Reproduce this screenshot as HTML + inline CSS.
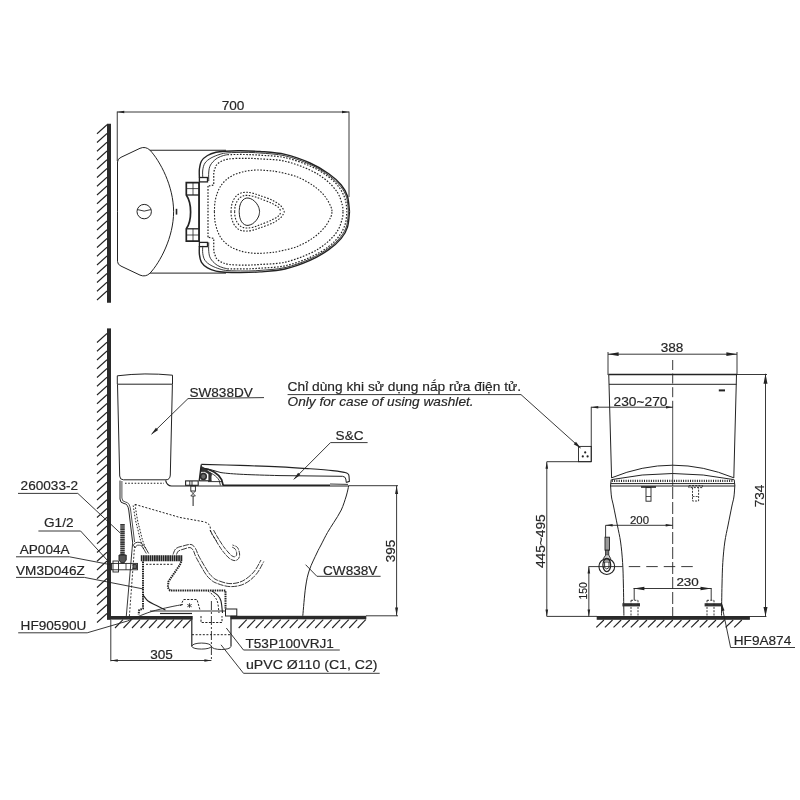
<!DOCTYPE html>
<html><head><meta charset="utf-8"><title>Drawing</title>
<style>html,body{margin:0;padding:0;background:#fff}svg{display:block;filter:grayscale(1)}
text{font-family:"Liberation Sans",Arial,sans-serif;fill:#262629;stroke:#262629;stroke-width:0.18px}</style></head>
<body><svg width="800" height="800" viewBox="0 0 800 800">
<rect width="800" height="800" fill="#fff"/>
<rect x="107.00" y="123.75" width="4.00" height="179.00" fill="#2a2a2e" stroke="none" stroke-width="0"/>
<path d="M97.00,133.75 L107.00,124.75" fill="none" stroke="#232326" stroke-width="1.05" />
<path d="M97.00,142.50 L107.00,133.50" fill="none" stroke="#232326" stroke-width="1.05" />
<path d="M97.00,151.25 L107.00,142.25" fill="none" stroke="#232326" stroke-width="1.05" />
<path d="M97.00,160.00 L107.00,151.00" fill="none" stroke="#232326" stroke-width="1.05" />
<path d="M97.00,168.75 L107.00,159.75" fill="none" stroke="#232326" stroke-width="1.05" />
<path d="M97.00,177.50 L107.00,168.50" fill="none" stroke="#232326" stroke-width="1.05" />
<path d="M97.00,186.25 L107.00,177.25" fill="none" stroke="#232326" stroke-width="1.05" />
<path d="M97.00,195.00 L107.00,186.00" fill="none" stroke="#232326" stroke-width="1.05" />
<path d="M97.00,203.75 L107.00,194.75" fill="none" stroke="#232326" stroke-width="1.05" />
<path d="M97.00,212.50 L107.00,203.50" fill="none" stroke="#232326" stroke-width="1.05" />
<path d="M97.00,221.25 L107.00,212.25" fill="none" stroke="#232326" stroke-width="1.05" />
<path d="M97.00,230.00 L107.00,221.00" fill="none" stroke="#232326" stroke-width="1.05" />
<path d="M97.00,238.75 L107.00,229.75" fill="none" stroke="#232326" stroke-width="1.05" />
<path d="M97.00,247.50 L107.00,238.50" fill="none" stroke="#232326" stroke-width="1.05" />
<path d="M97.00,256.25 L107.00,247.25" fill="none" stroke="#232326" stroke-width="1.05" />
<path d="M97.00,265.00 L107.00,256.00" fill="none" stroke="#232326" stroke-width="1.05" />
<path d="M97.00,273.75 L107.00,264.75" fill="none" stroke="#232326" stroke-width="1.05" />
<path d="M97.00,282.50 L107.00,273.50" fill="none" stroke="#232326" stroke-width="1.05" />
<path d="M97.00,291.25 L107.00,282.25" fill="none" stroke="#232326" stroke-width="1.05" />
<path d="M97.00,300.00 L107.00,291.00" fill="none" stroke="#232326" stroke-width="1.05" />
<path d="M117.25,112.00 L349.00,112.00" fill="none" stroke="#232326" stroke-width="0.9" />
<path d="M117.25,111.50 L117.25,161.00" fill="none" stroke="#232326" stroke-width="0.9" />
<path d="M349.00,111.50 L349.00,197.00" fill="none" stroke="#232326" stroke-width="0.9" />
<polygon points="117.25,112.00 124.25,110.70 124.25,113.30" fill="#232326"/>
<polygon points="349.00,112.00 342.00,113.30 342.00,110.70" fill="#232326"/>
<text x="233.00" y="110.00" font-size="13.6" text-anchor="middle" >700</text>
<path d="M117.5,211.7 L117.5,162 Q117.5,158.8 121,157.3 L140,148.3 Q145.5,146 150,150.2 C160,161 173.6,186 173.6,211.7" fill="none" stroke="#232326" stroke-width="1.0" />
<path d="M117.5,211.7 L117.5,261.4 Q117.5,264.6 121,266.1 L140,275.1 Q145.5,277.4 150,273.2 C160,262.4 173.6,237.4 173.6,211.7" fill="none" stroke="#232326" stroke-width="1.0" />
<path d="M150.00,150.25 L226.00,150.25" fill="none" stroke="#232326" stroke-width="1.0" />
<path d="M150.00,273.10 L226.00,273.10" fill="none" stroke="#232326" stroke-width="1.0" />
<circle cx="144.2" cy="211.6" r="7.2" fill="none" stroke="#232326" stroke-width="1"/>
<path d="M137.6,209.6 Q144.2,212.6 150.8,209.6" fill="none" stroke="#232326" stroke-width="0.9" />
<path d="M176.50,208.80 L176.50,214.60" fill="none" stroke="#232326" stroke-width="1.6" />
<path d="M186.3,182.6 H199 V241.2 H186.3 V228.8 C189,225 190.6,220 190.6,211.9 C190.6,204 189,199 186.3,195 Z" fill="none" stroke="#232326" stroke-width="1.7" />
<path d="M186.30,195.00 L199.00,195.00" fill="none" stroke="#232326" stroke-width="1.3" />
<path d="M186.30,228.80 L199.00,228.80" fill="none" stroke="#232326" stroke-width="1.3" />
<path d="M193.00,182.60 L193.00,195.00" fill="none" stroke="#232326" stroke-width="0.8" />
<path d="M186.30,188.60 L199.00,188.60" fill="none" stroke="#232326" stroke-width="0.8" />
<path d="M193.00,228.80 L193.00,241.20" fill="none" stroke="#232326" stroke-width="0.8" />
<path d="M186.30,235.00 L199.00,235.00" fill="none" stroke="#232326" stroke-width="0.8" />
<rect x="199.40" y="177.50" width="8.10" height="4.40" fill="none" stroke="#232326" stroke-width="1.3"/>
<rect x="199.40" y="242.40" width="8.10" height="4.20" fill="none" stroke="#232326" stroke-width="1.3"/>
<path d="M199.30,182.00 L199.30,242.00" fill="none" stroke="#232326" stroke-width="1.0" />
<path d="M199.40,177.50 C199.40,176.08 199.05,171.75 199.40,169.00 C199.75,166.25 200.15,163.25 201.50,161.00 C202.85,158.75 205.08,156.95 207.50,155.50 C209.92,154.05 213.08,153.02 216.00,152.30 C218.92,151.58 221.00,151.45 225.00,151.20 C229.00,150.95 234.17,150.75 240.00,150.80 C245.83,150.85 252.50,150.90 260.00,151.50 C267.50,152.10 276.67,152.48 285.00,154.40 C293.33,156.32 302.71,159.78 310.00,163.00 C317.29,166.22 323.54,170.08 328.75,173.75 C333.96,177.42 338.12,181.25 341.25,185.00 C344.38,188.75 346.12,191.80 347.50,196.25 C348.88,200.70 349.17,209.12 349.50,211.70" fill="none" stroke="#232326" stroke-width="1.4" />
<path d="M199.40,245.90 C199.40,247.32 199.05,251.65 199.40,254.40 C199.75,257.15 200.15,260.15 201.50,262.40 C202.85,264.65 205.08,266.45 207.50,267.90 C209.92,269.35 213.08,270.38 216.00,271.10 C218.92,271.82 221.00,271.95 225.00,272.20 C229.00,272.45 234.17,272.65 240.00,272.60 C245.83,272.55 252.50,272.50 260.00,271.90 C267.50,271.30 276.67,270.92 285.00,269.00 C293.33,267.08 302.71,263.62 310.00,260.40 C317.29,257.17 323.54,253.32 328.75,249.65 C333.96,245.98 338.12,242.15 341.25,238.40 C344.38,234.65 346.12,231.60 347.50,227.15 C348.88,222.70 349.17,214.27 349.50,211.70" fill="none" stroke="#232326" stroke-width="1.4" />
<path d="M202.75,177.50 C202.75,176.25 202.38,172.42 202.75,170.00 C203.12,167.58 203.62,165.00 205.00,163.00 C206.38,161.00 208.50,159.45 211.00,158.00 C213.50,156.55 217.17,155.17 220.00,154.30 C222.83,153.43 223.83,153.12 228.00,152.80 C232.17,152.48 239.67,152.37 245.00,152.40 C250.33,152.43 253.33,152.43 260.00,153.00 C266.67,153.57 276.67,153.90 285.00,155.80 C293.33,157.70 302.75,161.17 310.00,164.40 C317.25,167.63 323.40,171.53 328.50,175.20 C333.60,178.87 337.58,182.68 340.60,186.40 C343.62,190.12 345.30,193.28 346.60,197.50 C347.90,201.72 348.10,209.33 348.40,211.70" fill="none" stroke="#232326" stroke-width="0.9" />
<path d="M202.75,245.90 C202.75,247.15 202.38,250.98 202.75,253.40 C203.12,255.82 203.62,258.40 205.00,260.40 C206.38,262.40 208.50,263.95 211.00,265.40 C213.50,266.85 217.17,268.23 220.00,269.10 C222.83,269.97 223.83,270.28 228.00,270.60 C232.17,270.92 239.67,271.03 245.00,271.00 C250.33,270.97 253.33,270.97 260.00,270.40 C266.67,269.83 276.67,269.50 285.00,267.60 C293.33,265.70 302.75,262.23 310.00,259.00 C317.25,255.77 323.40,251.87 328.50,248.20 C333.60,244.53 337.58,240.72 340.60,237.00 C343.62,233.28 345.30,230.12 346.60,225.90 C347.90,221.68 348.10,214.07 348.40,211.70" fill="none" stroke="#232326" stroke-width="0.9" />
<path d="M208.75,181.00 C208.75,179.50 208.46,174.67 208.75,172.00 C209.04,169.33 209.29,167.17 210.50,165.00 C211.71,162.83 214.08,160.50 216.00,159.00 C217.92,157.50 220.08,156.73 222.00,156.00 C223.92,155.27 226.58,154.83 227.50,154.60" fill="none" stroke="#232326" stroke-width="0.9" />
<path d="M208.75,242.40 C208.75,243.90 208.46,248.73 208.75,251.40 C209.04,254.07 209.29,256.23 210.50,258.40 C211.71,260.57 214.08,262.90 216.00,264.40 C217.92,265.90 220.08,266.67 222.00,267.40 C223.92,268.13 226.58,268.57 227.50,268.80" fill="none" stroke="#232326" stroke-width="0.9" />
<path d="M227.50,154.60 C230.42,154.58 239.58,154.40 245.00,154.50 C250.42,154.60 253.33,154.68 260.00,155.20 C266.67,155.72 276.67,155.80 285.00,157.60 C293.33,159.40 302.75,162.80 310.00,166.00 C317.25,169.20 323.57,173.13 328.50,176.80 C333.43,180.47 336.78,184.13 339.60,188.00 C342.42,191.87 344.20,196.05 345.40,200.00 C346.60,203.95 346.57,209.75 346.80,211.70" fill="none" stroke="#232326" stroke-width="1.2" stroke-dasharray="1.6 1.5" />
<path d="M227.50,268.80 C230.42,268.82 239.58,269.00 245.00,268.90 C250.42,268.80 253.33,268.72 260.00,268.20 C266.67,267.68 276.67,267.60 285.00,265.80 C293.33,264.00 302.75,260.60 310.00,257.40 C317.25,254.20 323.57,250.27 328.50,246.60 C333.43,242.93 336.78,239.27 339.60,235.40 C342.42,231.53 344.20,227.35 345.40,223.40 C346.60,219.45 346.57,213.65 346.80,211.70" fill="none" stroke="#232326" stroke-width="1.2" stroke-dasharray="1.6 1.5" />
<path d="M208.75,186 L213.75,185 L213.75,172 L216.00,165.50 C216.67,164.92 217.88,163.08 220.00,162.00 C222.12,160.92 224.58,159.62 228.75,159.00 C232.92,158.38 239.79,158.32 245.00,158.30 C250.21,158.28 253.33,158.42 260.00,158.90 C266.67,159.38 276.67,159.35 285.00,161.20 C293.33,163.05 303.17,166.87 310.00,170.00 C316.83,173.13 321.42,176.25 326.00,180.00 C330.58,183.75 334.78,188.33 337.50,192.50 C340.22,196.67 341.38,201.80 342.30,205.00 C343.22,208.20 342.88,210.58 343.00,211.70" fill="none" stroke="#232326" stroke-width="1.2" stroke-dasharray="1.6 1.5" />
<path d="M208.75,237.40 L213.75,238.40 L213.75,251.40 L216.00,257.90 C216.67,258.48 217.88,260.32 220.00,261.40 C222.12,262.48 224.58,263.78 228.75,264.40 C232.92,265.02 239.79,265.08 245.00,265.10 C250.21,265.12 253.33,264.98 260.00,264.50 C266.67,264.02 276.67,264.05 285.00,262.20 C293.33,260.35 303.17,256.53 310.00,253.40 C316.83,250.27 321.42,247.15 326.00,243.40 C330.58,239.65 334.78,235.07 337.50,230.90 C340.22,226.73 341.38,221.60 342.30,218.40 C343.22,215.20 342.88,212.82 343.00,211.70" fill="none" stroke="#232326" stroke-width="1.2" stroke-dasharray="1.6 1.5" />
<path d="M208.00,186.00 L208.00,237.40" fill="none" stroke="#232326" stroke-width="1.2" stroke-dasharray="1.6 1.5" />
<path d="M207.70,186.00 L207.70,237.40" fill="none" stroke="#232326" stroke-width="0" />
<path d="M214.40,211.70 C214.50,210.08 214.48,205.20 215.00,202.00 C215.52,198.80 216.50,195.25 217.50,192.50 C218.50,189.75 219.58,187.58 221.00,185.50 C222.42,183.42 224.17,181.62 226.00,180.00 C227.83,178.38 229.67,177.03 232.00,175.80 C234.33,174.57 237.33,173.43 240.00,172.60 C242.67,171.77 245.08,171.23 248.00,170.80 C250.92,170.37 254.17,170.03 257.50,170.00 C260.83,169.97 264.46,170.27 268.00,170.60 C271.54,170.93 273.83,170.93 278.75,172.00 C283.67,173.07 291.67,174.67 297.50,177.00 C303.33,179.33 309.17,182.75 313.75,186.00 C318.33,189.25 322.12,193.00 325.00,196.50 C327.88,200.00 329.83,204.47 331.00,207.00 C332.17,209.53 331.83,210.92 332.00,211.70" fill="none" stroke="#232326" stroke-width="1.1" stroke-dasharray="1.6 1.5" />
<path d="M214.40,211.70 C214.50,213.32 214.48,218.20 215.00,221.40 C215.52,224.60 216.50,228.15 217.50,230.90 C218.50,233.65 219.58,235.82 221.00,237.90 C222.42,239.98 224.17,241.78 226.00,243.40 C227.83,245.02 229.67,246.37 232.00,247.60 C234.33,248.83 237.33,249.97 240.00,250.80 C242.67,251.63 245.08,252.17 248.00,252.60 C250.92,253.03 254.17,253.37 257.50,253.40 C260.83,253.43 264.46,253.13 268.00,252.80 C271.54,252.47 273.83,252.47 278.75,251.40 C283.67,250.33 291.67,248.73 297.50,246.40 C303.33,244.07 309.17,240.65 313.75,237.40 C318.33,234.15 322.12,230.40 325.00,226.90 C327.88,223.40 329.83,218.93 331.00,216.40 C332.17,213.87 331.83,212.48 332.00,211.70" fill="none" stroke="#232326" stroke-width="1.1" stroke-dasharray="1.6 1.5" />
<path d="M231.00,211.70 C231.10,210.67 231.14,207.53 231.60,205.50 C232.06,203.47 232.85,201.20 233.75,199.50 C234.65,197.80 235.79,196.38 237.00,195.30 C238.21,194.22 239.50,193.50 241.00,193.00 C242.50,192.50 244.17,192.30 246.00,192.30 C247.83,192.30 249.67,192.45 252.00,193.00 C254.33,193.55 256.58,194.38 260.00,195.60 C263.42,196.82 269.00,198.57 272.50,200.30 C276.00,202.03 279.02,204.10 281.00,206.00 C282.98,207.90 283.83,210.75 284.40,211.70" fill="none" stroke="#232326" stroke-width="1.1" stroke-dasharray="1.6 1.5" />
<path d="M231.00,211.70 C231.10,212.73 231.14,215.87 231.60,217.90 C232.06,219.93 232.85,222.20 233.75,223.90 C234.65,225.60 235.79,227.02 237.00,228.10 C238.21,229.18 239.50,229.90 241.00,230.40 C242.50,230.90 244.17,231.10 246.00,231.10 C247.83,231.10 249.67,230.95 252.00,230.40 C254.33,229.85 256.58,229.02 260.00,227.80 C263.42,226.58 269.00,224.83 272.50,223.10 C276.00,221.37 279.02,219.30 281.00,217.40 C282.98,215.50 283.83,212.65 284.40,211.70" fill="none" stroke="#232326" stroke-width="1.1" stroke-dasharray="1.6 1.5" />
<path d="M234.60,211.70 C234.70,210.75 234.77,207.78 235.20,206.00 C235.63,204.22 236.40,202.40 237.20,201.00 C238.00,199.60 238.95,198.47 240.00,197.60 C241.05,196.73 242.25,196.17 243.50,195.80 C244.75,195.43 245.92,195.33 247.50,195.40 C249.08,195.47 250.92,195.67 253.00,196.20 C255.08,196.73 257.00,197.47 260.00,198.60 C263.00,199.73 267.92,201.53 271.00,203.00 C274.08,204.47 276.83,205.95 278.50,207.40 C280.17,208.85 280.58,210.98 281.00,211.70" fill="none" stroke="#232326" stroke-width="1.1" stroke-dasharray="1.6 1.5" />
<path d="M234.60,211.70 C234.70,212.65 234.77,215.62 235.20,217.40 C235.63,219.18 236.40,221.00 237.20,222.40 C238.00,223.80 238.95,224.93 240.00,225.80 C241.05,226.67 242.25,227.23 243.50,227.60 C244.75,227.97 245.92,228.07 247.50,228.00 C249.08,227.93 250.92,227.73 253.00,227.20 C255.08,226.67 257.00,225.93 260.00,224.80 C263.00,223.67 267.92,221.87 271.00,220.40 C274.08,218.93 276.83,217.45 278.50,216.00 C280.17,214.55 280.58,212.42 281.00,211.70" fill="none" stroke="#232326" stroke-width="1.1" stroke-dasharray="1.6 1.5" />
<path d="M239.20,211.70 C239.30,210.75 239.40,207.68 239.80,206.00 C240.20,204.32 240.82,202.80 241.60,201.60 C242.38,200.40 243.43,199.40 244.50,198.80 C245.57,198.20 246.67,197.87 248.00,198.00 C249.33,198.13 251.10,198.73 252.50,199.60 C253.90,200.47 255.35,201.88 256.40,203.20 C257.45,204.52 258.27,206.08 258.80,207.50 C259.33,208.92 259.47,211.00 259.60,211.70" fill="none" stroke="#232326" stroke-width="1.0" />
<path d="M239.20,211.70 C239.30,212.65 239.40,215.72 239.80,217.40 C240.20,219.08 240.82,220.60 241.60,221.80 C242.38,223.00 243.43,224.00 244.50,224.60 C245.57,225.20 246.67,225.53 248.00,225.40 C249.33,225.27 251.10,224.67 252.50,223.80 C253.90,222.93 255.35,221.52 256.40,220.20 C257.45,218.88 258.27,217.32 258.80,215.90 C259.33,214.48 259.47,212.40 259.60,211.70" fill="none" stroke="#232326" stroke-width="1.0" />
<rect x="107.00" y="328.40" width="4.00" height="291.20" fill="#2a2a2e" stroke="none" stroke-width="0"/>
<rect x="107.00" y="616.00" width="85.50" height="3.60" fill="#2a2a2e" stroke="none" stroke-width="0"/>
<rect x="230.50" y="615.80" width="135.80" height="3.50" fill="#2a2a2e" stroke="none" stroke-width="0"/>
<path d="M97.00,342.50 L107.00,333.50" fill="none" stroke="#232326" stroke-width="1.05" />
<path d="M97.00,351.25 L107.00,342.25" fill="none" stroke="#232326" stroke-width="1.05" />
<path d="M97.00,360.00 L107.00,351.00" fill="none" stroke="#232326" stroke-width="1.05" />
<path d="M97.00,368.75 L107.00,359.75" fill="none" stroke="#232326" stroke-width="1.05" />
<path d="M97.00,377.50 L107.00,368.50" fill="none" stroke="#232326" stroke-width="1.05" />
<path d="M97.00,386.25 L107.00,377.25" fill="none" stroke="#232326" stroke-width="1.05" />
<path d="M97.00,395.00 L107.00,386.00" fill="none" stroke="#232326" stroke-width="1.05" />
<path d="M97.00,403.75 L107.00,394.75" fill="none" stroke="#232326" stroke-width="1.05" />
<path d="M97.00,412.50 L107.00,403.50" fill="none" stroke="#232326" stroke-width="1.05" />
<path d="M97.00,421.25 L107.00,412.25" fill="none" stroke="#232326" stroke-width="1.05" />
<path d="M97.00,430.00 L107.00,421.00" fill="none" stroke="#232326" stroke-width="1.05" />
<path d="M97.00,438.75 L107.00,429.75" fill="none" stroke="#232326" stroke-width="1.05" />
<path d="M97.00,447.50 L107.00,438.50" fill="none" stroke="#232326" stroke-width="1.05" />
<path d="M97.00,456.25 L107.00,447.25" fill="none" stroke="#232326" stroke-width="1.05" />
<path d="M97.00,465.00 L107.00,456.00" fill="none" stroke="#232326" stroke-width="1.05" />
<path d="M97.00,473.75 L107.00,464.75" fill="none" stroke="#232326" stroke-width="1.05" />
<path d="M97.00,482.50 L107.00,473.50" fill="none" stroke="#232326" stroke-width="1.05" />
<path d="M97.00,491.25 L107.00,482.25" fill="none" stroke="#232326" stroke-width="1.05" />
<path d="M97.00,500.00 L107.00,491.00" fill="none" stroke="#232326" stroke-width="1.05" />
<path d="M97.00,508.75 L107.00,499.75" fill="none" stroke="#232326" stroke-width="1.05" />
<path d="M97.00,517.50 L107.00,508.50" fill="none" stroke="#232326" stroke-width="1.05" />
<path d="M97.00,526.25 L107.00,517.25" fill="none" stroke="#232326" stroke-width="1.05" />
<path d="M97.00,535.00 L107.00,526.00" fill="none" stroke="#232326" stroke-width="1.05" />
<path d="M97.00,543.75 L107.00,534.75" fill="none" stroke="#232326" stroke-width="1.05" />
<path d="M97.00,552.50 L107.00,543.50" fill="none" stroke="#232326" stroke-width="1.05" />
<path d="M97.00,561.25 L107.00,552.25" fill="none" stroke="#232326" stroke-width="1.05" />
<path d="M97.00,570.00 L107.00,561.00" fill="none" stroke="#232326" stroke-width="1.05" />
<path d="M97.00,578.75 L107.00,569.75" fill="none" stroke="#232326" stroke-width="1.05" />
<path d="M97.00,587.50 L107.00,578.50" fill="none" stroke="#232326" stroke-width="1.05" />
<path d="M97.00,596.25 L107.00,587.25" fill="none" stroke="#232326" stroke-width="1.05" />
<path d="M97.00,605.00 L107.00,596.00" fill="none" stroke="#232326" stroke-width="1.05" />
<path d="M97.00,613.75 L107.00,604.75" fill="none" stroke="#232326" stroke-width="1.05" />
<path d="M97.00,622.50 L107.00,613.50" fill="none" stroke="#232326" stroke-width="1.05" />
<path d="M115.00,628.00 L123.00,619.60" fill="none" stroke="#232326" stroke-width="1.1" />
<path d="M123.50,628.00 L131.50,619.60" fill="none" stroke="#232326" stroke-width="1.1" />
<path d="M132.00,628.00 L140.00,619.60" fill="none" stroke="#232326" stroke-width="1.1" />
<path d="M140.50,628.00 L148.50,619.60" fill="none" stroke="#232326" stroke-width="1.1" />
<path d="M149.00,628.00 L157.00,619.60" fill="none" stroke="#232326" stroke-width="1.1" />
<path d="M157.50,628.00 L165.50,619.60" fill="none" stroke="#232326" stroke-width="1.1" />
<path d="M166.00,628.00 L174.00,619.60" fill="none" stroke="#232326" stroke-width="1.1" />
<path d="M174.50,628.00 L182.50,619.60" fill="none" stroke="#232326" stroke-width="1.1" />
<path d="M183.00,628.00 L191.00,619.60" fill="none" stroke="#232326" stroke-width="1.1" />
<path d="M238.70,628.00 L246.70,619.60" fill="none" stroke="#232326" stroke-width="1.1" />
<path d="M247.20,628.00 L255.20,619.60" fill="none" stroke="#232326" stroke-width="1.1" />
<path d="M255.70,628.00 L263.70,619.60" fill="none" stroke="#232326" stroke-width="1.1" />
<path d="M264.20,628.00 L272.20,619.60" fill="none" stroke="#232326" stroke-width="1.1" />
<path d="M272.70,628.00 L280.70,619.60" fill="none" stroke="#232326" stroke-width="1.1" />
<path d="M281.20,628.00 L289.20,619.60" fill="none" stroke="#232326" stroke-width="1.1" />
<path d="M289.70,628.00 L297.70,619.60" fill="none" stroke="#232326" stroke-width="1.1" />
<path d="M298.20,628.00 L306.20,619.60" fill="none" stroke="#232326" stroke-width="1.1" />
<path d="M306.70,628.00 L314.70,619.60" fill="none" stroke="#232326" stroke-width="1.1" />
<path d="M315.20,628.00 L323.20,619.60" fill="none" stroke="#232326" stroke-width="1.1" />
<path d="M323.70,628.00 L331.70,619.60" fill="none" stroke="#232326" stroke-width="1.1" />
<path d="M332.20,628.00 L340.20,619.60" fill="none" stroke="#232326" stroke-width="1.1" />
<path d="M340.70,628.00 L348.70,619.60" fill="none" stroke="#232326" stroke-width="1.1" />
<path d="M349.20,628.00 L357.20,619.60" fill="none" stroke="#232326" stroke-width="1.1" />
<path d="M357.70,628.00 L365.70,619.60" fill="none" stroke="#232326" stroke-width="1.1" />
<path d="M117.3,384.2 V375.8 Q145,372.4 172.5,375.2 V384.2" fill="none" stroke="#232326" stroke-width="1.0" />
<path d="M117.30,384.20 L172.50,384.20" fill="none" stroke="#232326" stroke-width="1.0" />
<path d="M117.5,384.4 L119.7,476 Q119.8,479.8 123.5,479.8 H166 Q170,479.8 170.3,475 L172.4,384.4" fill="none" stroke="#232326" stroke-width="1.0" />
<path d="M188.00,398.60 L151.50,434.20" fill="none" stroke="#232326" stroke-width="0.9" />
<path d="M188.00,398.60 L264.00,397.60" fill="none" stroke="#232326" stroke-width="0.9" />
<polygon points="151.30,434.40 155.91,427.67 158.14,429.96" fill="#232326"/>
<text x="189.40" y="396.80" font-size="13.6" text-anchor="start" >SW838DV</text>
<path d="M165.6,480.4 C166.5,484 168,486 171.5,486 H349" fill="none" stroke="#232326" stroke-width="1.2" />
<path d="M223.00,485.30 L330.00,485.30" fill="none" stroke="#232326" stroke-width="1.6" />
<path d="M330.00,484.00 L348.00,484.40" fill="none" stroke="#232326" stroke-width="0.9" />
<path d="M125.00,483.20 L164.00,483.20" fill="none" stroke="#232326" stroke-width="1.1" stroke-dasharray="1.6 1.6" />
<path d="M120,480.5 V499 Q120,503 124,503.5 C127,503.8 128,506 128.75,510 L132.6,542" fill="none" stroke="#232326" stroke-width="1.0" />
<path d="M121.9,481 V498 Q122,501.6 125.4,502 C128.6,502.4 129.8,505 130.5,509 L134.6,542" fill="none" stroke="#232326" stroke-width="0.8" />
<path d="M132.70,542.00 L126.30,616.00" fill="none" stroke="#232326" stroke-width="0.9" />
<path d="M134.60,546.00 L129.40,616.00" fill="none" stroke="#232326" stroke-width="0.9" stroke-dasharray="2 1.6" />
<path d="M133.00,546.50 C133.25,546.00 133.75,544.20 134.50,543.50 C135.25,542.80 136.42,542.38 137.50,542.30 C138.58,542.22 139.83,542.30 141.00,543.00 C142.17,543.70 143.22,544.75 144.50,546.50 C145.78,548.25 148.00,552.33 148.70,553.50" fill="none" stroke="#232326" stroke-width="0.9" />
<path d="M135.20,548.00 C135.43,547.60 135.97,546.07 136.60,545.60 C137.23,545.13 138.10,545.07 139.00,545.20 C139.90,545.33 140.78,545.02 142.00,546.40 C143.22,547.78 145.58,552.32 146.30,553.50" fill="none" stroke="#232326" stroke-width="0.8" />
<path d="M135.00,504.40 C135.42,507.00 136.67,515.73 137.50,520.00 C138.33,524.27 139.17,526.67 140.00,530.00 C140.83,533.33 141.58,537.00 142.50,540.00 C143.42,543.00 145.00,546.67 145.50,548.00" fill="none" stroke="#232326" stroke-width="1.0" stroke-dasharray="1.6 1.5" />
<path d="M133.20,505.50 C133.58,507.92 134.70,515.92 135.50,520.00 C136.30,524.08 137.18,526.67 138.00,530.00 C138.82,533.33 139.47,536.83 140.40,540.00 C141.33,543.17 143.07,547.50 143.60,549.00" fill="none" stroke="#232326" stroke-width="1.0" stroke-dasharray="1.6 1.5" />
<path d="M135,504.4 L180,517.5 L203,521.6 Q209.5,523 210.2,527 L210.8,532.5 L216.5,541" fill="none" stroke="#232326" stroke-width="1.0" stroke-dasharray="2 1.6" />
<path d="M210.00,530.00 C210.83,531.50 213.17,535.88 215.00,539.00 C216.83,542.12 219.17,546.08 221.00,548.75 C222.83,551.42 224.50,553.33 226.00,555.00 C227.50,556.67 228.50,557.87 230.00,558.80 C231.50,559.73 233.57,560.65 235.00,560.60 C236.43,560.55 237.83,559.60 238.60,558.50 C239.37,557.40 239.78,555.83 239.60,554.00 C239.42,552.17 238.68,549.00 237.50,547.50 C236.32,546.00 233.33,545.42 232.50,545.00" fill="none" stroke="#232326" stroke-width="0.9" stroke-dasharray="5 1" />
<path d="M213.50,530.00 C214.25,531.33 216.32,535.23 218.00,538.00 C219.68,540.77 221.93,544.27 223.60,546.60 C225.27,548.93 226.68,550.50 228.00,552.00 C229.32,553.50 230.40,554.80 231.50,555.60 C232.60,556.40 233.78,556.83 234.60,556.80 C235.42,556.77 236.07,556.10 236.40,555.40 C236.73,554.70 236.83,553.70 236.60,552.60 C236.37,551.50 235.80,549.73 235.00,548.80 C234.20,547.87 232.33,547.30 231.80,547.00" fill="none" stroke="#232326" stroke-width="0.9" stroke-dasharray="5 1" />
<path d="M173.00,554.50 C173.50,553.50 174.33,549.92 176.00,548.50 C177.67,547.08 180.50,546.67 183.00,546.00 C185.50,545.33 188.92,544.08 191.00,544.50 C193.08,544.92 194.21,546.58 195.50,548.50 C196.79,550.42 196.75,552.25 198.75,556.00 C200.75,559.75 205.29,567.58 207.50,571.00 C209.71,574.42 210.33,574.95 212.00,576.50 C213.67,578.05 214.50,579.12 217.50,580.30 C220.50,581.48 225.83,583.48 230.00,583.60 C234.17,583.72 238.54,582.93 242.50,581.00 C246.46,579.07 250.67,575.50 253.75,572.00 C256.83,568.50 259.79,562.00 261.00,560.00" fill="none" stroke="#232326" stroke-width="0.9" stroke-dasharray="6 1" />
<path d="M176.50,554.50 C176.83,553.92 177.25,551.92 178.50,551.00 C179.75,550.08 182.08,549.57 184.00,549.00 C185.92,548.43 188.45,547.35 190.00,547.60 C191.55,547.85 192.27,548.85 193.30,550.50 C194.33,552.15 194.25,553.75 196.20,557.50 C198.15,561.25 202.70,569.42 205.00,573.00 C207.30,576.58 208.08,577.30 210.00,579.00 C211.92,580.70 213.17,581.93 216.50,583.20 C219.83,584.47 225.42,586.47 230.00,586.60 C234.58,586.73 239.67,586.00 244.00,584.00 C248.33,582.00 252.70,578.35 256.00,574.60 C259.30,570.85 262.50,563.68 263.80,561.50" fill="none" stroke="#232326" stroke-width="0.9" stroke-dasharray="6 1" />
<path d="M122.50,524.00 L122.50,555.00" fill="none" stroke="#333" stroke-width="4.5" stroke-dasharray="1.7 0.45" />
<path d="M119,555 H126.2 V560 L123.8,563 H121.4 L119,560 Z" fill="#555" stroke="#232326" stroke-width="1.0" />
<rect x="111.50" y="563.40" width="26.00" height="6.40" fill="none" stroke="#232326" stroke-width="0.9"/>
<rect x="113.00" y="561.00" width="5.50" height="11.00" fill="none" stroke="#232326" stroke-width="0.9"/>
<rect x="133.00" y="564.60" width="3.40" height="4.00" fill="#666" stroke="#232326" stroke-width="0.9"/>
<path d="M126.00,563.40 L126.00,569.80" fill="none" stroke="#232326" stroke-width="0.8" />
<path d="M140.8,558.2 H182.8" fill="none" stroke="#232326" stroke-width="6.0" stroke-dasharray="1.7 0.5" />
<path d="M143,561.5 V608.5 L139.3,610 L138.5,614.5" fill="none" stroke="#232326" stroke-width="2.0" stroke-dasharray="1.5 0.8" />
<path d="M181.3,561.5 L179.8,565 L168.5,581.5 L167.8,587.5 L170,590.5 H225.5 V608.5" fill="none" stroke="#232326" stroke-width="2.0" stroke-dasharray="1.5 0.8" />
<path d="M143.00,595.00 C143.83,596.00 145.75,599.25 148.00,601.00 C150.25,602.75 153.58,604.00 156.50,605.50 C159.42,607.00 164.00,609.25 165.50,610.00" fill="none" stroke="#232326" stroke-width="1.1" />
<path d="M212.00,591.00 C213.00,591.75 216.50,593.83 218.00,595.50 C219.50,597.17 220.25,598.08 221.00,601.00 C221.75,603.92 222.25,611.00 222.50,613.00" fill="none" stroke="#232326" stroke-width="1.1" />
<path d="M208.00,591.00 C209.00,591.83 212.42,594.17 214.00,596.00 C215.58,597.83 216.67,599.17 217.50,602.00 C218.33,604.83 218.75,611.17 219.00,613.00" fill="none" stroke="#232326" stroke-width="1.0" stroke-dasharray="2 1.5" />
<path d="M146.00,564.30 L173.00,564.30" fill="none" stroke="#232326" stroke-width="1.0" stroke-dasharray="2 1.5" />
<path d="M180.5,606 L183.5,599.5 H197 L200,610" fill="none" stroke="#232326" stroke-width="1.0" stroke-dasharray="2.2 1.4" />
<path d="M189.5,603.2 V607.8 M187.3,604.4 L191.7,606.8 M191.7,604.4 L187.3,606.8" fill="none" stroke="#232326" stroke-width="0.8" />
<rect x="225.50" y="609.00" width="11.30" height="7.00" fill="none" stroke="#232326" stroke-width="1.0"/>
<path d="M150.00,611.00 L226.00,611.00" fill="none" stroke="#232326" stroke-width="0.9" />
<path d="M160.00,613.50 L192.00,613.50" fill="none" stroke="#232326" stroke-width="1.2" />
<path d="M191.80,616.00 L191.80,646.30" fill="none" stroke="#232326" stroke-width="1.2" />
<path d="M231.00,616.00 L231.00,646.30" fill="none" stroke="#232326" stroke-width="1.2" />
<path d="M191.8,646.3 C192,642 211,642 211.4,646.3 C211.8,650.6 230.8,650.6 231,646.3" fill="none" stroke="#232326" stroke-width="0.9" />
<path d="M191.8,646.3 C192,650 211,650 211.4,646.3" fill="none" stroke="#232326" stroke-width="0.9" />
<path d="M192.00,634.70 L231.00,634.70" fill="none" stroke="#232326" stroke-width="1.0" stroke-dasharray="2 1.6" />
<path d="M201,616 V622.5 H222 V616" fill="none" stroke="#232326" stroke-width="1.0" stroke-dasharray="2.2 1.4" />
<path d="M211.40,601.00 L211.40,661.00" fill="none" stroke="#232326" stroke-width="0.9" stroke-dasharray="9 2 2 2" />
<path d="M110.80,620.00 L110.80,661.30" fill="none" stroke="#232326" stroke-width="0.9" />
<path d="M110.80,660.50 L211.40,660.50" fill="none" stroke="#232326" stroke-width="0.9" />
<polygon points="110.80,660.50 117.80,659.20 117.80,661.80" fill="#232326"/>
<polygon points="211.40,660.50 204.40,661.80 204.40,659.20" fill="#232326"/>
<text x="161.50" y="658.60" font-size="13.6" text-anchor="middle" >305</text>
<text x="20.60" y="489.70" font-size="13.6" text-anchor="start" >260033-2</text>
<path d="M18.00,493.40 L77.80,493.40" fill="none" stroke="#232326" stroke-width="0.9" />
<path d="M77.80,493.40 L120.00,532.80" fill="none" stroke="#232326" stroke-width="0.9" />
<text x="44.00" y="527.20" font-size="13.6" text-anchor="start" >G1/2</text>
<path d="M38.40,531.00 L80.60,531.00" fill="none" stroke="#232326" stroke-width="0.9" />
<path d="M80.60,531.00 L108.80,561.90" fill="none" stroke="#232326" stroke-width="0.9" />
<text x="19.70" y="554.40" font-size="13.6" text-anchor="start" >AP004A</text>
<path d="M16.00,556.80 L69.40,556.80" fill="none" stroke="#232326" stroke-width="0.9" />
<path d="M69.40,556.80 L110.60,564.70" fill="none" stroke="#232326" stroke-width="0.9" />
<text x="16.00" y="575.00" font-size="13.6" text-anchor="start" >VM3D046Z</text>
<path d="M16.00,577.40 L84.40,577.40" fill="none" stroke="#232326" stroke-width="0.9" />
<path d="M84.40,577.40 L143.50,589.00" fill="none" stroke="#232326" stroke-width="0.9" />
<text x="20.60" y="630.30" font-size="13.6" text-anchor="start" >HF90590U</text>
<path d="M18.20,632.80 L87.20,632.80" fill="none" stroke="#232326" stroke-width="0.9" />
<path d="M87.20,632.80 L127.50,621.00" fill="none" stroke="#232326" stroke-width="0.9" />
<path d="M127.50,621.00 C131.25,619.50 142.92,614.33 150.00,612.00 C157.08,609.67 164.50,608.25 170.00,607.00 C175.50,605.75 180.83,604.92 183.00,604.50" fill="none" stroke="#232326" stroke-width="0.9" />
<path d="M226.30,628.00 L243.50,650.00" fill="none" stroke="#232326" stroke-width="0.9" />
<path d="M243.50,650.00 L339.80,650.00" fill="none" stroke="#232326" stroke-width="0.9" />
<text x="245.50" y="648.20" font-size="13.6" text-anchor="start" >T53P100VRJ1</text>
<path d="M221.00,644.80 L243.50,673.30" fill="none" stroke="#232326" stroke-width="0.9" />
<path d="M243.50,673.30 L379.70,673.30" fill="none" stroke="#232326" stroke-width="0.9" />
<text x="246.00" y="668.80" font-size="13.6" text-anchor="start" textLength="131.5" lengthAdjust="spacingAndGlyphs">uPVC Ø110 (C1, C2)</text>
<rect x="185.60" y="480.90" width="12.60" height="4.40" fill="none" stroke="#232326" stroke-width="1.1"/>
<path d="M189.80,481.00 L189.80,485.20" fill="none" stroke="#232326" stroke-width="0.9" />
<path d="M192.00,481.00 L192.00,485.20" fill="none" stroke="#232326" stroke-width="0.9" />
<path d="M201.30,464.40 C207.75,464.57 226.88,464.98 240.00,465.40 C253.12,465.82 268.33,466.33 280.00,466.90 C291.67,467.47 301.25,468.18 310.00,468.80 C318.75,469.42 326.67,469.98 332.50,470.60 C338.33,471.22 342.92,472.18 345.00,472.50 Q348.8,473.2 349,476 L349.4,481.3 L346.3,482.6" fill="none" stroke="#232326" stroke-width="1.1" />
<path d="M202,468 C210,469 216,471.4 221,472.6 C232,474.2 250,474.8 280,475.6 L342.5,476.3 Q345.5,476.6 345.8,479 L346.3,482.6" fill="none" stroke="#232326" stroke-width="1.0" />
<path d="M202.6,468.4 C211,469 218.5,473.6 221.6,479.6 L223.2,485.4" fill="none" stroke="#232326" stroke-width="1.7" />
<path d="M206,471.6 C211,472.4 216.6,475.8 219.2,480.4 L220.4,485.4" fill="none" stroke="#232326" stroke-width="0.9" />
<path d="M201.3,466.2 L206.8,470 L211.4,473.4 V475.4 L205,471.8 L200.5,471.8 Z" fill="#333" stroke="#232326" stroke-width="0.5" />
<rect x="208.40" y="473.60" width="3.10" height="7.20" fill="#333" stroke="none" stroke-width="0"/>
<path d="M201.30,464.60 L199.20,480.80" fill="none" stroke="#232326" stroke-width="1.4" />
<path d="M199.20,480.80 L211.50,480.80" fill="none" stroke="#232326" stroke-width="1.2" />
<circle cx="203.4" cy="476.5" r="2.9" fill="#6a6a6a" stroke="#2a2a2a" stroke-width="1.5"/>
<path d="M208.00,481.60 L222.00,481.60" fill="none" stroke="#232326" stroke-width="0.9" />
<rect x="190.80" y="486.00" width="4.60" height="5.00" fill="none" stroke="#232326" stroke-width="0.9"/>
<path d="M190.8,491 L195.4,496 M195.4,491 L190.8,496 M190.8,496 H195.4" fill="none" stroke="#232326" stroke-width="0.8" />
<path d="M193.10,496.00 L193.10,506.00" fill="none" stroke="#232326" stroke-width="1.0" />
<path d="M348.75,485.60 C348.33,487.33 347.50,491.93 346.25,496.00 C345.00,500.07 343.33,505.58 341.25,510.00 C339.17,514.42 336.04,518.75 333.75,522.50 C331.46,526.25 329.62,528.75 327.50,532.50 C325.38,536.25 322.77,541.58 321.00,545.00 C319.23,548.42 318.83,548.83 316.90,553.00 C314.97,557.17 311.28,564.33 309.40,570.00 C307.52,575.67 306.70,579.37 305.60,587.00 C304.50,594.63 303.27,611.00 302.80,615.80" fill="none" stroke="#232326" stroke-width="1.0" />
<path d="M367.60,442.60 L330.50,442.60" fill="none" stroke="#232326" stroke-width="0.9" />
<path d="M330.50,442.60 L293.80,479.40" fill="none" stroke="#232326" stroke-width="0.9" />
<polygon points="293.60,479.60 298.13,472.81 300.39,475.07" fill="#232326"/>
<text x="335.60" y="440.40" font-size="13.6" text-anchor="start" >S&amp;C</text>
<path d="M380.60,576.30 L316.90,576.30" fill="none" stroke="#232326" stroke-width="0.9" />
<path d="M316.90,576.30 L305.60,564.70" fill="none" stroke="#232326" stroke-width="0.9" />
<text x="323.00" y="574.60" font-size="13.6" text-anchor="start" >CW838V</text>
<path d="M349.00,485.70 L398.00,485.70" fill="none" stroke="#232326" stroke-width="0.9" />
<path d="M366.00,615.80 L398.00,615.80" fill="none" stroke="#232326" stroke-width="0.9" />
<path d="M396.60,485.60 L396.60,615.80" fill="none" stroke="#232326" stroke-width="0.9" />
<polygon points="396.60,485.60 398.10,494.00 395.10,494.00" fill="#232326"/>
<polygon points="396.60,615.80 395.10,607.40 398.10,607.40" fill="#232326"/>
<text x="395.00" y="551.00" font-size="13.4" text-anchor="middle" transform="rotate(-90 395.00 551.00)" >395</text>
<text x="287.60" y="390.60" font-size="13.6" text-anchor="start" textLength="233.4" lengthAdjust="spacingAndGlyphs">Chỉ dùng khi sử dụng nắp rửa điện tử.</text>
<path d="M287.60,394.60 L521.00,394.60" fill="none" stroke="#232326" stroke-width="0.9" />
<path d="M521.00,394.60 L580.50,448.00" fill="none" stroke="#232326" stroke-width="0.9" />
<polygon points="580.80,448.30 573.70,444.24 575.97,441.70" fill="#232326"/>
<text x="287.60" y="406.40" font-size="13.6" text-anchor="start" font-style="italic" textLength="186" lengthAdjust="spacingAndGlyphs">Only for case of using washlet.</text>
<rect x="578.50" y="446.40" width="12.75" height="15.30" fill="none" stroke="#232326" stroke-width="0.9"/>
<circle cx="585.20" cy="452.40" r="1.1" fill="#232326"/>
<circle cx="582.80" cy="456.40" r="1.1" fill="#232326"/>
<circle cx="587.60" cy="456.40" r="1.1" fill="#232326"/>
<path d="M591.25,406.80 L591.25,461.70" fill="none" stroke="#232326" stroke-width="0.9" />
<path d="M546.80,461.70 L591.25,461.70" fill="none" stroke="#232326" stroke-width="0.9" />
<path d="M546.80,461.70 L546.80,616.40" fill="none" stroke="#232326" stroke-width="0.9" />
<polygon points="546.80,461.70 548.10,468.70 545.50,468.70" fill="#232326"/>
<polygon points="546.80,616.40 545.50,609.40 548.10,609.40" fill="#232326"/>
<path d="M546.80,616.40 L597.00,616.40" fill="none" stroke="#232326" stroke-width="0.9" />
<text x="545.20" y="541.20" font-size="13.4" text-anchor="middle" transform="rotate(-90 545.20 541.20)" textLength="53.8" lengthAdjust="spacingAndGlyphs">445~495</text>
<path d="M591.25,407.20 L673.00,407.20" fill="none" stroke="#232326" stroke-width="0.9" />
<polygon points="591.25,407.20 598.25,405.90 598.25,408.50" fill="#232326"/>
<polygon points="673.00,407.20 666.00,408.50 666.00,405.90" fill="#232326"/>
<text x="613.50" y="405.60" font-size="13.6" text-anchor="start" textLength="54" lengthAdjust="spacingAndGlyphs">230~270</text>
<path d="M608.00,354.20 L737.00,354.20" fill="none" stroke="#232326" stroke-width="0.9" />
<polygon points="608.00,354.20 618.60,352.30 618.60,356.10" fill="#232326"/>
<polygon points="737.00,354.20 726.40,356.10 726.40,352.30" fill="#232326"/>
<path d="M608.00,352.00 L608.00,375.00" fill="none" stroke="#232326" stroke-width="0.9" />
<path d="M737.00,352.00 L737.00,375.00" fill="none" stroke="#232326" stroke-width="0.9" />
<text x="672.00" y="352.20" font-size="13.6" text-anchor="middle" >388</text>
<path d="M608.50,374.50 L737.00,374.50" fill="none" stroke="#232326" stroke-width="1.6" />
<path d="M737.00,374.50 L767.00,374.50" fill="none" stroke="#232326" stroke-width="0.9" />
<path d="M609.00,384.30 L736.50,384.30" fill="none" stroke="#232326" stroke-width="1.0" />
<path d="M608.75,374.50 L611.60,478.00" fill="none" stroke="#232326" stroke-width="1.0" />
<path d="M736.50,374.50 L733.80,478.00" fill="none" stroke="#232326" stroke-width="1.0" />
<rect x="718.80" y="389.40" width="6.20" height="2.00" fill="#232326" stroke="none" stroke-width="0"/>
<path d="M672.70,360.00 L672.70,407.00" fill="none" stroke="#232326" stroke-width="0.9" stroke-dasharray="10 3.6" />
<path d="M672.70,407.00 L672.70,486.00" fill="none" stroke="#232326" stroke-width="0.8" />
<path d="M672.70,487.00 L672.70,616.00" fill="none" stroke="#232326" stroke-width="0.9" stroke-dasharray="12 3" />
<path d="M611.6,477.8 Q672.7,452.6 733.8,477.8" fill="none" stroke="#232326" stroke-width="1.0" />
<path d="M611.6,479.6 Q672.7,467.4 733.8,479.6" fill="none" stroke="#232326" stroke-width="1.0" />
<path d="M611.80,480.90 L733.60,480.90" fill="none" stroke="#232326" stroke-width="2.4" stroke-dasharray="1 1.3" />
<path d="M610.80,483.60 L734.60,483.60" fill="none" stroke="#232326" stroke-width="1.0" />
<path d="M610.50,486.00 L734.90,486.00" fill="none" stroke="#232326" stroke-width="1.1" />
<path d="M611.20,479.60 L610.50,486.00" fill="none" stroke="#232326" stroke-width="1.0" />
<path d="M734.20,479.60 L734.90,486.00" fill="none" stroke="#232326" stroke-width="1.0" />
<path d="M610.60,486.00 C610.75,487.83 611.02,493.67 611.50,497.00 C611.98,500.33 612.53,501.33 613.50,506.00 C614.47,510.67 616.12,519.00 617.30,525.00 C618.48,531.00 619.72,535.75 620.60,542.00 C621.48,548.25 622.13,555.33 622.60,562.50 C623.07,569.67 623.18,576.15 623.40,585.00 C623.62,593.85 623.82,610.50 623.90,615.60" fill="none" stroke="#232326" stroke-width="1.0" />
<path d="M734.80,486.00 C734.65,487.83 734.38,493.67 733.90,497.00 C733.42,500.33 732.87,501.33 731.90,506.00 C730.93,510.67 729.28,519.00 728.10,525.00 C726.92,531.00 725.68,535.75 724.80,542.00 C723.92,548.25 723.27,555.33 722.80,562.50 C722.33,569.67 722.22,576.15 722.00,585.00 C721.78,593.85 721.58,610.50 721.50,615.60" fill="none" stroke="#232326" stroke-width="1.0" />
<path d="M641.00,487.00 L656.00,487.00" fill="none" stroke="#232326" stroke-width="1.6" />
<rect x="646.00" y="487.60" width="5.00" height="13.60" fill="none" stroke="#232326" stroke-width="0.9"/>
<path d="M646.00,496.50 L651.00,496.50" fill="none" stroke="#232326" stroke-width="0.8" />
<path d="M688.8,485.6 H702.5 V487.6 H688.8Z" fill="none" stroke="#232326" stroke-width="0.9" stroke-dasharray="2 1.2" />
<path d="M692.5,487.6 V501 H698.6 V487.6" fill="none" stroke="#232326" stroke-width="0.9" stroke-dasharray="2 1.2" />
<path d="M692.50,496.50 L698.60,496.50" fill="none" stroke="#232326" stroke-width="0.8" stroke-dasharray="2 1.2" />
<path d="M765.50,373.80 L765.50,616.50" fill="none" stroke="#232326" stroke-width="0.9" />
<polygon points="765.50,373.80 767.50,383.80 763.50,383.80" fill="#232326"/>
<polygon points="765.50,616.50 763.50,606.90 767.50,606.90" fill="#232326"/>
<path d="M749.00,616.50 L766.40,616.50" fill="none" stroke="#232326" stroke-width="0.9" />
<text x="764.40" y="496.00" font-size="13.6" text-anchor="middle" transform="rotate(-90 764.40 496.00)" >734</text>
<path d="M605.60,525.30 L672.70,525.30" fill="none" stroke="#232326" stroke-width="0.9" />
<polygon points="672.70,525.30 665.70,526.60 665.70,524.00" fill="#232326"/>
<polygon points="605.60,525.30 612.60,524.00 612.60,526.60" fill="#232326"/>
<path d="M605.60,525.30 L605.60,537.50" fill="none" stroke="#232326" stroke-width="0.9" />
<text x="630.00" y="523.80" font-size="11.2" text-anchor="start" textLength="19" lengthAdjust="spacingAndGlyphs">200</text>
<rect x="605.00" y="537.20" width="4.50" height="13.00" fill="#999" stroke="#232326" stroke-width="0.9"/>
<rect x="605.60" y="550.20" width="3.20" height="5.00" fill="#777" stroke="#232326" stroke-width="0.8"/>
<path d="M605.6,555.2 L603.4,558.5 V560 H610.6 V558.5 L608.8,555.2" fill="#ccc" stroke="#232326" stroke-width="0.9" />
<circle cx="606.8" cy="566.6" r="7.9" fill="none" stroke="#232326" stroke-width="1.1"/>
<ellipse cx="606.8" cy="565" rx="3.9" ry="6.6" fill="none" stroke="#232326" stroke-width="1.2"/>
<path d="M604.6,562 V567.5 Q606.8,570.5 609,567.5 V562 M603.4,562 H610.2" fill="none" stroke="#232326" stroke-width="0.9" />
<path d="M588.50,566.60 L622.80,566.60" fill="none" stroke="#232326" stroke-width="0.9" />
<path d="M628.75,566.60 L694.00,566.60" fill="none" stroke="#232326" stroke-width="0.9" stroke-dasharray="11.5 6" />
<path d="M588.85,566.60 L588.85,616.40" fill="none" stroke="#232326" stroke-width="0.9" />
<polygon points="588.85,566.60 590.15,573.60 587.55,573.60" fill="#232326"/>
<polygon points="588.85,616.40 587.55,609.40 590.15,609.40" fill="#232326"/>
<text x="587.10" y="590.90" font-size="10.6" text-anchor="middle" transform="rotate(-90 587.10 590.90)" textLength="17.4" lengthAdjust="spacingAndGlyphs">150</text>
<path d="M633.60,588.50 L711.30,588.50" fill="none" stroke="#232326" stroke-width="0.9" />
<polygon points="633.60,588.50 644.40,586.75 644.40,590.25" fill="#232326"/>
<polygon points="711.30,588.50 700.50,590.25 700.50,586.75" fill="#232326"/>
<path d="M634.20,588.00 L634.20,600.00" fill="none" stroke="#232326" stroke-width="0.9" />
<path d="M711.20,588.00 L711.20,600.00" fill="none" stroke="#232326" stroke-width="0.9" />
<text x="676.40" y="586.20" font-size="11.6" text-anchor="start" textLength="22.4" lengthAdjust="spacingAndGlyphs">230</text>
<rect x="622.40" y="603.20" width="17.60" height="3.20" fill="#333" stroke="none" stroke-width="0"/>
<path d="M631.00,600.3 V615.6 M638.00,600.3 V615.6" fill="none" stroke="#232326" stroke-width="0.9" stroke-dasharray="2 1.3" />
<path d="M631.00,600.30 L638.00,600.30" fill="none" stroke="#232326" stroke-width="0.9" stroke-dasharray="2 1.3" />
<rect x="704.60" y="603.20" width="16.60" height="3.20" fill="#333" stroke="none" stroke-width="0"/>
<path d="M707.00,600.3 V615.6 M714.00,600.3 V615.6" fill="none" stroke="#232326" stroke-width="0.9" stroke-dasharray="2 1.3" />
<path d="M707.00,600.30 L714.00,600.30" fill="none" stroke="#232326" stroke-width="0.9" stroke-dasharray="2 1.3" />
<rect x="596.70" y="616.00" width="153.20" height="3.80" fill="#2a2a2e" stroke="none" stroke-width="0"/>
<path d="M596.30,627.40 L603.90,620.00" fill="none" stroke="#232326" stroke-width="1.15" />
<path d="M604.92,627.40 L612.52,620.00" fill="none" stroke="#232326" stroke-width="1.15" />
<path d="M613.54,627.40 L621.14,620.00" fill="none" stroke="#232326" stroke-width="1.15" />
<path d="M622.16,627.40 L629.76,620.00" fill="none" stroke="#232326" stroke-width="1.15" />
<path d="M630.78,627.40 L638.38,620.00" fill="none" stroke="#232326" stroke-width="1.15" />
<path d="M639.40,627.40 L647.00,620.00" fill="none" stroke="#232326" stroke-width="1.15" />
<path d="M648.02,627.40 L655.62,620.00" fill="none" stroke="#232326" stroke-width="1.15" />
<path d="M656.64,627.40 L664.24,620.00" fill="none" stroke="#232326" stroke-width="1.15" />
<path d="M665.26,627.40 L672.86,620.00" fill="none" stroke="#232326" stroke-width="1.15" />
<path d="M673.88,627.40 L681.48,620.00" fill="none" stroke="#232326" stroke-width="1.15" />
<path d="M682.50,627.40 L690.10,620.00" fill="none" stroke="#232326" stroke-width="1.15" />
<path d="M691.12,627.40 L698.72,620.00" fill="none" stroke="#232326" stroke-width="1.15" />
<path d="M699.74,627.40 L707.34,620.00" fill="none" stroke="#232326" stroke-width="1.15" />
<path d="M708.36,627.40 L715.96,620.00" fill="none" stroke="#232326" stroke-width="1.15" />
<path d="M716.98,627.40 L724.58,620.00" fill="none" stroke="#232326" stroke-width="1.15" />
<path d="M725.60,627.40 L733.20,620.00" fill="none" stroke="#232326" stroke-width="1.15" />
<path d="M734.22,627.40 L741.82,620.00" fill="none" stroke="#232326" stroke-width="1.15" />
<path d="M721.40,603.00 L730.60,647.50" fill="none" stroke="#232326" stroke-width="0.9" />
<path d="M730.60,647.50 L795.00,647.50" fill="none" stroke="#232326" stroke-width="0.9" />
<polygon points="721.20,602.00 724.49,610.51 721.56,611.12" fill="#232326"/>
<text x="733.80" y="644.80" font-size="13.6" text-anchor="start" >HF9A874</text>
</svg></body></html>
